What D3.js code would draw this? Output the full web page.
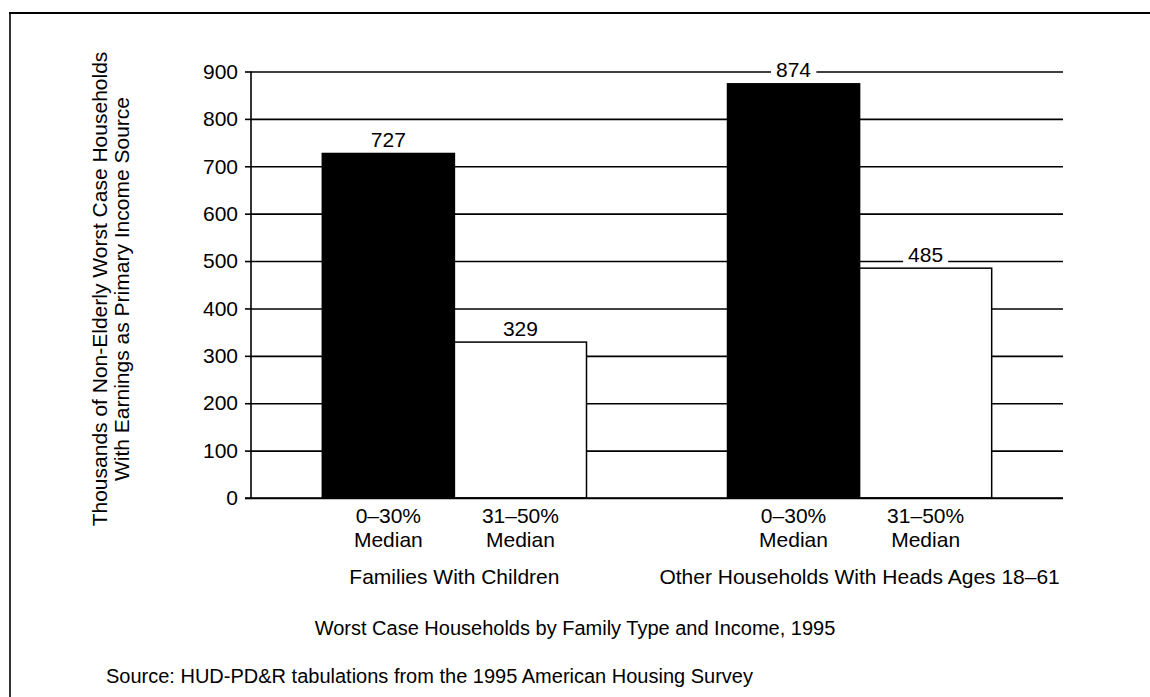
<!DOCTYPE html>
<html>
<head>
<meta charset="utf-8">
<script src="https://d3js.org/d3.v7.min.js"></script>
<style>
  body { margin: 0; background: #fff; }
  svg text { font-family: 'Liberation Sans', Arial, Helvetica, sans-serif; fill: #000; }
</style>
</head>
<body>
<svg id="svg" width="1150" height="697"></svg>
<script>
// chart data
var groups = ['Families With Children', 'Other Households With Heads Ages 18\u201361'];
var bands = ['0\u201330%', '31\u201350%'];
var bandSub = ['Median', 'Median'];
var low = [727, 874];      // 0-30% of median
var mid = [329, 485];      // 31-50% of median
var yTicks = [0, 100, 200, 300, 400, 500, 600, 700, 800, 900];

var rows = [];
groups.forEach(function (g, i) {
    rows.push({group: g, band: bands[0], value: low[i], fill: '#000'});
    rows.push({group: g, band: bands[1], value: mid[i], fill: '#fff'});
});

var svg = d3.select('svg');

// plot edges (window.top is reserved, so no plain "top")
var plotL = 251, plotR = 1063, plotT = 71.5, plotB = 498;

var x0 = d3.scaleBand()
    .domain(groups)
    .range([plotL, plotR])
    .paddingInner(0.348)
    .paddingOuter(0.176);

var x1 = d3.scaleBand()
    .domain(bands)
    .range([0, x0.bandwidth()]);

var y = d3.scaleLinear()
    .domain([0, 900])
    .range([plotB, plotT]);

// frame (top rule and left edge)
svg.append('line')
    .attr('x1', 9).attr('x2', 1150).attr('y1', 13).attr('y2', 13)
    .attr('stroke', '#000').attr('stroke-width', 2);
svg.append('line')
    .attr('x1', 10).attr('x2', 10).attr('y1', 13).attr('y2', 697)
    .attr('stroke', '#000').attr('stroke-width', 1.6);

// gridlines
svg.append('g')
    .attr('transform', 'translate(' + plotL + ',0)')
    .call(d3.axisLeft(y).tickValues(yTicks).tickSize(-(plotR - plotL)).tickFormat(''))
    .call(function (g) { g.select('.domain').remove(); })
    .selectAll('line')
    .attr('stroke', '#000')
    .attr('stroke-width', 1.6);

// y axis with ticks and labels
var yAxis = svg.append('g')
    .attr('transform', 'translate(' + plotL + ',0)')
    .call(d3.axisLeft(y).tickValues(yTicks).tickSize(6).tickPadding(7).tickFormat(d3.format('d')));
yAxis.select('.domain').attr('stroke', '#000').attr('stroke-width', 1.6).attr('d', 'M0,' + plotT + 'V' + plotB);
yAxis.selectAll('.tick line').attr('stroke', '#000').attr('stroke-width', 1.6);
yAxis.selectAll('text')
    .attr('font-size', 21)
    .attr('font-family', "'Liberation Sans', Arial, sans-serif")
    .attr('fill', '#000');

// bars
svg.selectAll('rect.bar')
    .data(rows)
    .enter()
    .append('rect')
    .attr('class', 'bar')
    .attr('x', function (d) { return x0(d.group) + x1(d.band); })
    .attr('y', function (d) { return y(d.value); })
    .attr('width', x1.bandwidth())
    .attr('height', function (d) { return y(0) - y(d.value); })
    .attr('fill', function (d) { return d.fill; })
    .attr('stroke', '#000')
    .attr('stroke-width', 1.5);

// value labels, with a white patch so the gridline breaks around them
var vl = svg.selectAll('g.vlabel')
    .data(rows)
    .enter()
    .append('g')
    .attr('class', 'vlabel');
vl.append('text')
    .attr('x', function (d) { return x0(d.group) + x1(d.band) + x1.bandwidth() / 2; })
    .attr('y', function (d) { return y(d.value) - 6.5; })
    .attr('text-anchor', 'middle')
    .attr('font-size', 21)
    .text(function (d) { return d.value; });
vl.each(function () {
    var t = d3.select(this).select('text');
    var b = t.node().getBBox();
    d3.select(this).insert('rect', 'text')
        .attr('x', b.x - 5).attr('y', b.y + 3)
        .attr('width', b.width + 10).attr('height', b.height - 5)
        .attr('fill', '#fff');
});

// baseline over bar bottoms
svg.append('line')
    .attr('x1', plotL - 6).attr('x2', plotR).attr('y1', plotB).attr('y2', plotB)
    .attr('stroke', '#000').attr('stroke-width', 1.6);

// band labels under each bar
rows.forEach(function (d) {
    var cx = x0(d.group) + x1(d.band) + x1.bandwidth() / 2;
    var t = svg.append('text')
        .attr('x', cx)
        .attr('y', 523)
        .attr('text-anchor', 'middle')
        .attr('font-size', 21);
    t.append('tspan').attr('x', cx).text(d.band);
    t.append('tspan').attr('x', cx).attr('y', 547).text(bandSub[bands.indexOf(d.band)]);
});

// group labels
svg.selectAll('text.group')
    .data(groups)
    .enter()
    .append('text')
    .attr('class', 'group')
    .attr('x', function (d) { return x0(d) + x0.bandwidth() / 2; })
    .attr('y', 584)
    .attr('text-anchor', 'middle')
    .attr('font-size', 21)
    .text(function (d) { return d; });

// y axis title
var yt = svg.append('text')
    .attr('transform', 'translate(0,289) rotate(-90)')
    .attr('text-anchor', 'middle')
    .attr('font-size', 21);
yt.append('tspan').attr('x', 0).attr('y', 107).text('Thousands of Non-Elderly Worst Case Households');
yt.append('tspan').attr('x', 0).attr('y', 129).text('With Earnings as Primary Income Source');

// chart title
svg.append('text')
    .attr('x', 575)
    .attr('y', 635)
    .attr('text-anchor', 'middle')
    .attr('font-size', 20)
    .text('Worst Case Households by Family Type and Income, 1995');

// source
svg.append('text')
    .attr('x', 106)
    .attr('y', 683)
    .attr('font-size', 20)
    .text('Source: HUD-PD&R tabulations from the 1995 American Housing Survey');
</script>
</body>
</html>
